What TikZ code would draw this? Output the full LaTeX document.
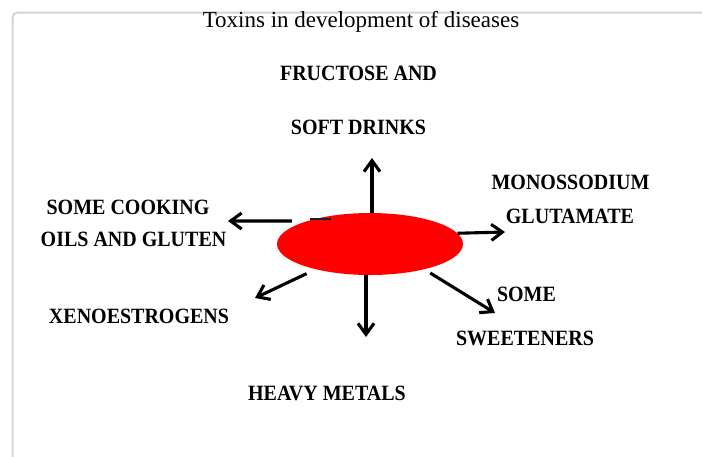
\documentclass[tikz,border=0pt]{standalone}
\usepackage{fontspec}
\setmainfont{Liberation Serif}
\usetikzlibrary{arrows.meta,shapes.geometric}
\definecolor{hubred}{RGB}{255,0,0}
\definecolor{framegray}{RGB}{212,212,212}
\definecolor{inkdark}{RGB}{25,25,50}
\newcommand{\tallcaps}[1]{\scalebox{1}[1.09]{#1}}
\tikzset{
  toxin/.style={font=\bfseries\fontsize{20}{24}\selectfont, inner sep=0pt, text=black},
  heading/.style={font=\fontsize{23}{27}\selectfont, inner sep=0pt, anchor=base},
  hubnode/.style={ellipse, fill=hubred, minimum width=186pt, minimum height=62pt, inner sep=0pt},
  flow/.style={-{Straight Barb[length=11pt,width=16pt]}, line width=3.1pt}
}

\begin{document}
\begin{tikzpicture}[x=1pt, y=-1pt]
\useasboundingbox (0,0) rectangle (702,456);
\draw[framegray, line width=2pt, rounded corners=5pt] (12.5,480) -- (12.5,12.5) -- (730,12.5);

\node[heading] (title) at (361,27) {Toxins in development of diseases};

\node[hubnode] (hub) at (370,244) {};

\node[toxin] (fructose) at (358.5,73) {\tallcaps{FRUCTOSE AND}};
\node[toxin] (softdrinks) at (358.5,127) {\tallcaps{SOFT DRINKS}};
\node[toxin] (msg) at (570.5,182) {\tallcaps{MONOSSODIUM}};
\node[toxin] (glutamate) at (570,216) {\tallcaps{GLUTAMATE}};
\node[toxin] (cooking) at (128,207) {\tallcaps{SOME COOKING}};
\node[toxin] (gluten) at (133.5,239) {\tallcaps{OILS AND GLUTEN}};
\node[toxin] (xeno) at (139,316) {\tallcaps{XENOESTROGENS}};
\node[toxin] (some) at (526.5,294) {\tallcaps{SOME}};
\node[toxin] (sweeteners) at (525,338) {\tallcaps{SWEETENERS}};
\node[toxin] (metals) at (327,393) {\tallcaps{HEAVY METALS}};

% arrow ends
\coordinate (upTip) at (372,158);
\coordinate (dnTip) at (366,337);
\coordinate (rtTip) at (505,232);
\coordinate (lfTip) at (228,221);
\coordinate (llTip) at (255,298);
\coordinate (lrTip) at (495,313);

\draw[flow] (hub.north -| upTip) -- (upTip);
\draw[flow] (hub.south -| dnTip) -- (dnTip);
\draw[flow] (hub.7) -- (rtTip);
\draw[flow, shorten <=15pt] (hub.160) -- (lfTip);
\draw[flow, shorten <=10pt] (hub.205) -- (llTip);
\draw[flow, shorten <=7pt] (hub.335) -- (lrTip);

\draw[inkdark, line width=2.5pt] (310,219) -- (331,219);
\end{tikzpicture}
\end{document}
